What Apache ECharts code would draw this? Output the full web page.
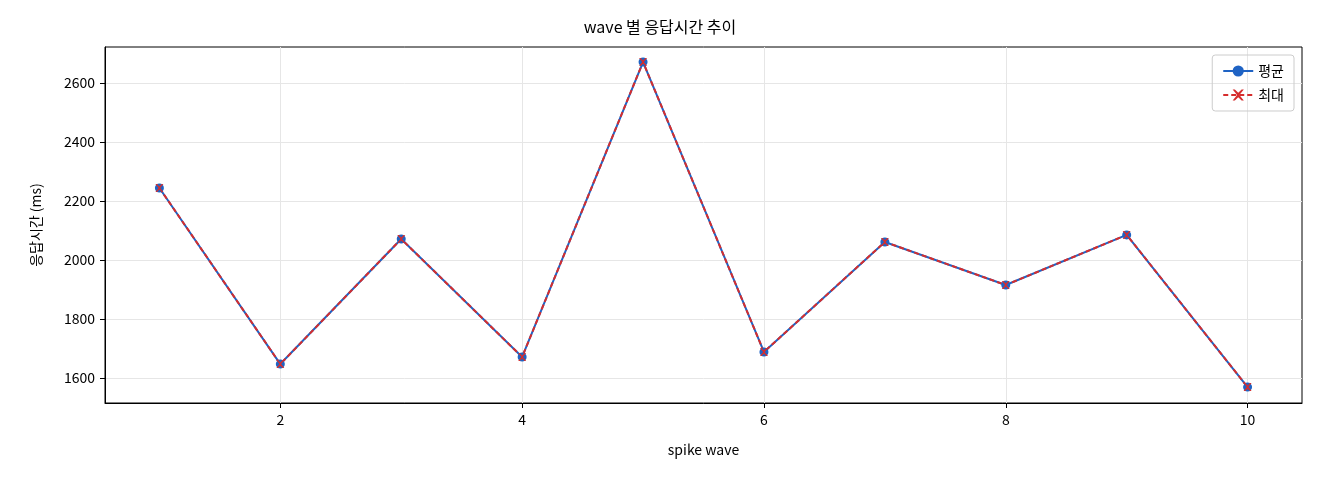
<!DOCTYPE html><html><head><meta charset="utf-8"><script src="https://cdn.jsdelivr.net/npm/echarts@6/dist/echarts.min.js"></script></head><body style="margin:0"><div id="c" style="width:1320px;height:480px"></div><script>
const waves=[1,2,3,4,5,6,7,8,9,10];
const avgVals=[2244,1647,2071,1671,2671,1688,2061,1915,2085,1569];
const maxVals=[2244,1647,2071,1671,2671,1688,2061,1915,2085,1569];
const xTicks=[2,4,6,8,10];
const yTicks=[1600,1800,2000,2200,2400,2600];
const F='"Noto Sans CJK KR","DejaVu Sans",sans-serif';
const X='path://M0,0L2,0L5,3L8,0L10,0L6,5L10,10L8,10L5,7L2,10L0,10L4,5Z';
const c=echarts.init(document.getElementById('c'));
c.setOption({
 animation:false,
 title:{text:'wave 별 응답시간 추이',left:'center',top:14,textStyle:{fontFamily:F,fontSize:16,fontWeight:'normal',color:'#000'}},
 grid:{left:105,right:18,top:47,bottom:77,show:true,borderColor:'#000',borderWidth:1},
 legend:{right:26,top:55,orient:'vertical',itemGap:10,borderColor:'#ccc',borderWidth:1,borderRadius:3,padding:[9,10],itemWidth:30,textStyle:{fontFamily:F,fontSize:14,color:'#000'},data:['평균','최대']},
 xAxis:{type:'value',min:0.55,max:10.45,name:'spike wave',nameLocation:'middle',nameGap:40,nameTextStyle:{fontFamily:F,fontSize:14,color:'#000'},
  axisLine:{lineStyle:{color:'#000'}},axisTick:{customValues:xTicks,length:5,lineStyle:{color:'#000'}},
  axisLabel:{customValues:xTicks,fontFamily:F,fontSize:14,color:'#000',margin:10},
  splitLine:{show:true,lineStyle:{color:'#e6e6e6'}}},
 yAxis:{type:'value',min:1515,max:2722,name:'응답시간 (ms)',nameLocation:'middle',nameGap:62,nameTextStyle:{fontFamily:F,fontSize:14,color:'#000'},
  axisLine:{show:true,lineStyle:{color:'#000'}},axisTick:{show:true,customValues:yTicks,length:5,lineStyle:{color:'#000'}},
  axisLabel:{customValues:yTicks,formatter:v=>String(v),fontFamily:F,fontSize:14,color:'#000',margin:10},
  splitLine:{show:true,lineStyle:{color:'#e6e6e6'}}},
 series:[
  {name:'평균',type:'line',data:waves.map((w,i)=>[w,avgVals[i]]),symbol:'circle',symbolSize:9,lineStyle:{color:'#1f63c4',width:2},itemStyle:{color:'#1f63c4'}},
  {name:'최대',type:'line',data:waves.map((w,i)=>[w,maxVals[i]]),symbol:X,symbolSize:8,lineStyle:{color:'#d62d2d',width:2,type:[5,3]},itemStyle:{color:'#d62d2d'}}
 ]
});
</script></body></html>
